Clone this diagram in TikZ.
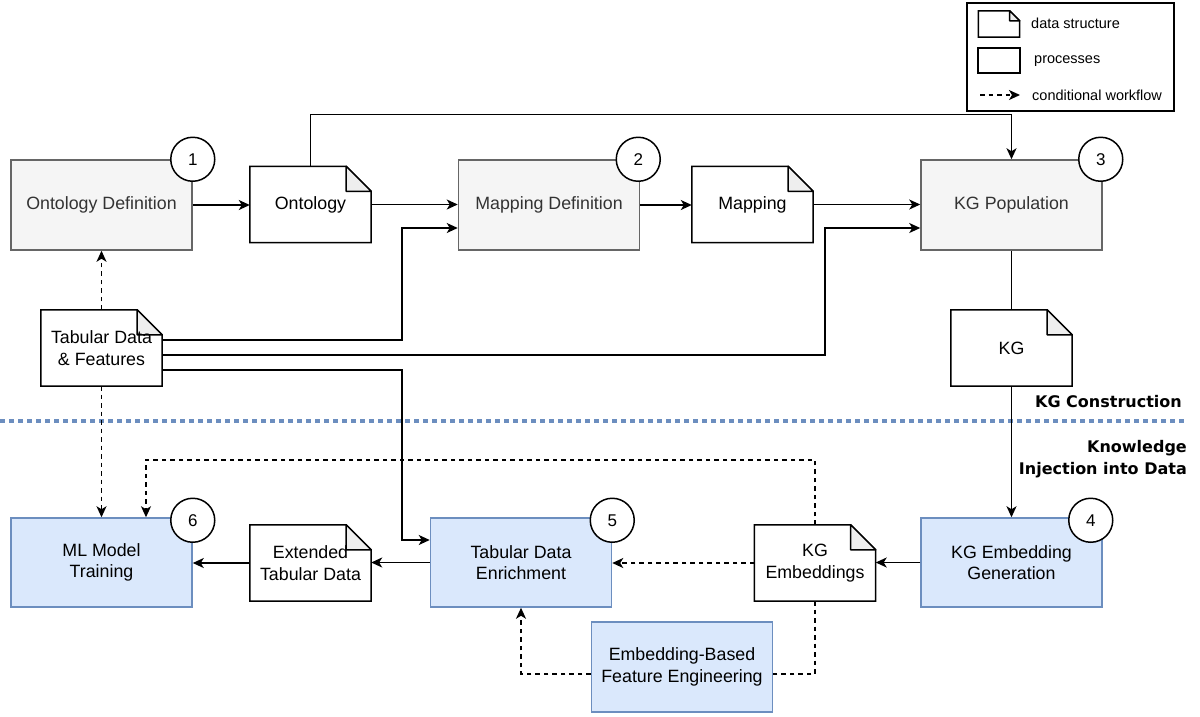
\documentclass[tikz,border=0pt]{standalone}
\usepackage{fontspec}
\setmainfont{Liberation Sans}
\newfontfamily\dvfont{DejaVu Sans}
\usetikzlibrary{arrows.meta,calc}
\pgfdeclarelayer{background}
\pgfsetlayers{background,main}
\definecolor{grayfill}{HTML}{F5F5F5}
\definecolor{grayline}{HTML}{666666}
\definecolor{graytext}{HTML}{333333}
\definecolor{bluefill}{HTML}{DAE8FC}
\definecolor{blueline}{HTML}{6C8EBF}
\definecolor{foldgray}{HTML}{EEEEEE}
\tikzset{
  base/.style={font=\fontsize{17.8}{21.5}\selectfont, align=center, inner sep=0pt, text=black},
  procgray/.style={base, rectangle, draw=grayline, fill=grayfill, text=graytext, line width=1.5pt, minimum width=181pt, minimum height=90pt},
  procblue/.style={base, rectangle, draw=blueline, fill=bluefill, line width=1.5pt, minimum width=181pt, minimum height=89pt},
  docnode/.style={base, rectangle, minimum width=121pt, minimum height=76pt},
  numcirc/.style={circle, draw, fill=white, line width=1.5pt, minimum size=44pt, inner sep=0pt, font=\fontsize{17}{17}\selectfont},
  conn/.style={line width=1.5pt},
  arr/.style={conn, -{Stealth[length=11pt,width=10pt,inset=3pt]}},
  dasharr/.style={conn, dash pattern=on 4.5pt off 4pt, -{Stealth[length=11pt,width=10pt,inset=3pt]}},
  dashline/.style={conn, dash pattern=on 4.5pt off 4pt},
  sectlabel/.style={font=\dvfont\bfseries\fontsize{16}{22.5}\selectfont, align=right, inner sep=0pt},
  legtext/.style={font=\fontsize{14.5}{17}\selectfont, anchor=west, inner sep=0pt},
}
\newcommand\docoutline[2][25pt]{%
  \begin{pgfonlayer}{background}
    \draw[conn, fill=white] (#2.south west) -- (#2.north west) -- ([xshift=-#1]#2.north east) -- ([yshift=-#1]#2.north east) -- (#2.south east) -- cycle;
    \draw[conn, fill=foldgray, line join=round] ([xshift=-#1]#2.north east) -- ([xshift=-#1,yshift=-#1]#2.north east) -- ([yshift=-#1]#2.north east) -- cycle;
  \end{pgfonlayer}}
\begin{document}
\begin{tikzpicture}[x=1pt,y=-1pt]
\useasboundingbox (0,0) rectangle (1200,716);

% legend
\node[draw, line width=1.4pt, minimum width=207pt, minimum height=108pt, inner sep=0pt] (legend) at (1070.5,57) {};
\node[rectangle, minimum width=41pt, minimum height=26pt, inner sep=0pt] (lgdoc) at (999,24) {};
\docoutline[10pt]{lgdoc}
\node[legtext] (lgdoctxt) at (1031,23) {data structure};
\node[rectangle, draw, line width=1.4pt, minimum width=42pt, minimum height=25pt, inner sep=0pt] (lgproc) at (999,60.5) {};
\node[legtext] (lgproctxt) at (1034,61) {processes};
\coordinate (lga) at (980,95);
\coordinate (lgb) at (1020,95);
\draw[dasharr] (lga) -- (lgb);
\node[legtext] (lgdashtxt) at (1032,95) {conditional workflow};

% top row
\node[procgray] (od) at (101.5,205) {Ontology Definition};
\node[docnode] (ont) at (310.5,204.5) {Ontology};
\docoutline{ont}
\node[procgray] (md) at (549,205) {Mapping Definition};
\node[docnode] (map) at (752.5,204.5) {Mapping};
\docoutline{map}
\node[procgray] (kgp) at (1011.5,205) {KG Population};
\node[docnode] (tab) at (101.5,348) {Tabular Data\\\& Features};
\docoutline{tab}
\node[docnode] (kg) at (1011.5,348) {KG};
\docoutline{kg}

\node[numcirc] (c1) at (od.north east) {1};
\node[numcirc] (c2) at ([xshift=-2pt]md.north east) {2};
\node[numcirc] (c3) at ([xshift=-2pt]kgp.north east) {3};

% bottom row
\node[procblue] (ml) at (101.5,562.5) {ML Model\\Training};
\node[docnode] (ext) at (310.5,563) {Extended\\Tabular Data};
\docoutline{ext}
\node[procblue] (enr) at (521,562.5) {Tabular Data\\Enrichment};
\node[docnode] (kge) at (815,563) {KG\\Embeddings};
\docoutline{kge}
\node[procblue] (kgeg) at (1011.5,562.5) {KG Embedding\\Generation};
\node[procblue, minimum height=90pt] (fe) at (682,667) {Embedding-Based\\Feature Engineering};

\node[numcirc] (c6) at ([yshift=-3pt]ml.north east) {6};
\node[numcirc] (c5) at ([yshift=-3pt]enr.north east) {5};
\node[numcirc] (c4) at ([xshift=-12pt,yshift=-3pt]kgeg.north east) {4};

% separator and labels
\coordinate (sepL) at (0,421);
\coordinate (sepR) at (1184,421);
\draw[blueline, line width=4.5pt, dash pattern=on 4.5pt off 4.5pt] (sepL) -- (sepR);
\node[sectlabel, anchor=east] (lblkg) at (1182,402) {KG Construction};
\node[sectlabel, anchor=north east] (lblki) at (1187,440) {Knowledge\\Injection into Data};

% top connectors
\draw[arr] (od.east) -- (od.east -| ont.west);
\draw[arr] (ont.east) -- (ont.east -| md.west);
\draw[arr] (md.east) -- (md.east -| map.west);
\draw[arr] (map.east) -- (map.east -| kgp.west);
\draw[arr] (ont.north) -- ++(0,-52) -| (kgp.north);
\coordinate (b1) at (402,228);
\coordinate (b2) at (825,228);
\coordinate (b3) at (402,540);
\draw[arr] ([yshift=8pt]tab.east) -| (b1) -- (b1 -| md.west);
\draw[arr] ([yshift=-7pt]tab.east) -| (b2) -- (b2 -| kgp.west);
\draw[arr] ([yshift=-22pt]tab.east) -| (b3) -- (b3 -| enr.west);
\draw[dasharr] (tab.north) -- (od.south);
\draw[dasharr] (tab.south) -- (ml.north);
\draw[conn] (kgp.south) -- (kg.north);
\draw[arr] (kg.south) -- (kgeg.north);

% bottom connectors
\draw[arr] (kgeg.west) -- (kgeg.west -| kge.east);
\draw[dasharr] (kge.west) -- (kge.west -| enr.east);
\draw[arr] (enr.west) -- (enr.west -| ext.east);
\draw[arr] (ext.west) -- (ext.west -| ml.east);
\draw[dasharr] (kge.north) -- ++(0,-65) -| ([xshift=44.5pt]ml.north);
\draw[dashline] (kge.south) |- ([yshift=-7pt]fe.east);
\draw[dasharr] ([yshift=-7pt]fe.west) -| (enr.south);
\end{tikzpicture}
\end{document}
